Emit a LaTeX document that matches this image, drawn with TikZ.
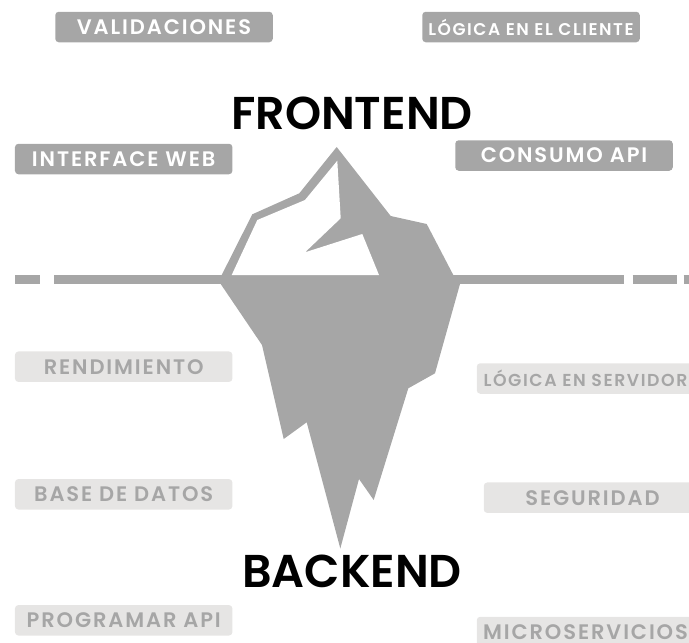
\documentclass[tikz,border=0pt]{standalone}
\usepackage{fontspec}
\setmainfont[LetterSpace=9]{Poppins SemiBold}
\newfontfamily\titlefont{Poppins SemiBold}
\usetikzlibrary{positioning}
\newcommand{\IcebergBadgeWidth}{217.5pt}
\definecolor{icegray}{HTML}{A6A6A6}
\definecolor{icelight}{HTML}{E6E5E4}
\tikzset{
	badge/.style={rounded corners=3.5pt, inner sep=0pt, minimum width=\IcebergBadgeWidth, minimum height=30.5pt, font=\fontsize{#1}{#1}\selectfont},
	above line/.style={badge=#1, fill=icegray, text=white},
	below line/.style={badge=#1, fill=icelight, text=icegray},
	title/.style={inner sep=0pt, font=\titlefont\fontsize{46}{46}\selectfont},
	sealevel/.style={draw=icegray, line width=9pt},
}

\begin{document}
\begin{tikzpicture}[x=1pt, y=-1pt]
	\useasboundingbox (0,0) rectangle (689,643);

	% sea level, broken towards the edges
	\coordinate (l1) at (15,279.5);
	\coordinate (l2) at (39.5,279.5);
	\coordinate (l3) at (54,279.5);
	\coordinate (l4) at (230,279.5);
	\coordinate (r1) at (450,279.5);
	\coordinate (r2) at (623.5,279.5);
	\coordinate (r3) at (632.5,279.5);
	\coordinate (r4) at (676.5,279.5);
	\coordinate (r5) at (683.5,279.5);
	\coordinate (r6) at (689,279.5);
	\draw[sealevel] (l1) -- (l2);
	\draw[sealevel] (l3) -- (l4);
	\draw[sealevel] (r1) -- (r2);
	\draw[sealevel] (r3) -- (r4);
	\draw[sealevel] (r5) -- (r6);

	% iceberg
	\fill[icegray] (336.7,147) -- (390.7,216) -- (426.7,224) -- (453.3,275) -- (460,284)
		-- (435,373.3) -- (408.3,388.3) -- (373.7,500) -- (359,479) -- (340.3,548.5)
		-- (306.7,422.3) -- (283.7,439) -- (262,345) -- (220.7,284) -- (221.7,275)
		-- (252.3,214.3) -- (299.3,193.3) -- cycle;
	\fill[white] (231.7,275) -- (257.3,220) -- (305,200) -- (337.3,160.7) -- (340.7,218.3)
		-- (305,252.3) -- (362.3,234) -- (379,275) -- cycle;

	\node[title] (frontend) at (352,113.5) {FRONTEND};
	\node[title] (backend) at (352,571.5) {BACKEND};

	\node[above line=21] (validaciones) at (164,27) {VALIDACIONES};
	\node[above line=17] (cliente) at (531,27) {LÓGICA EN EL CLIENTE};
	\node[above line=21] (interface) at (123.7,159) {INTERFACE WEB};
	\node[above line=21] (consumo) at (564,155.5) {CONSUMO API};

	\node[below line=21] (rendimiento) at (123.7,366.7) {RENDIMIENTO};
	\node[below line=21, below=127.6pt of rendimiento.center, anchor=center] (datos) {BASE DE DATOS};
	\node[below line=21, below=126pt of datos.center, anchor=center] (programar) {PROGRAMAR API};
	\node[below line=17.3] (servidor) at (585.5,378.5) {LÓGICA EN SERVIDOR};
	\node[below line=21] (seguridad) at (592.5,497.7) {SEGURIDAD};
	\node[below line=21] (micro) at (585.5,632) {MICROSERVICIOS};
\end{tikzpicture}
\end{document}
